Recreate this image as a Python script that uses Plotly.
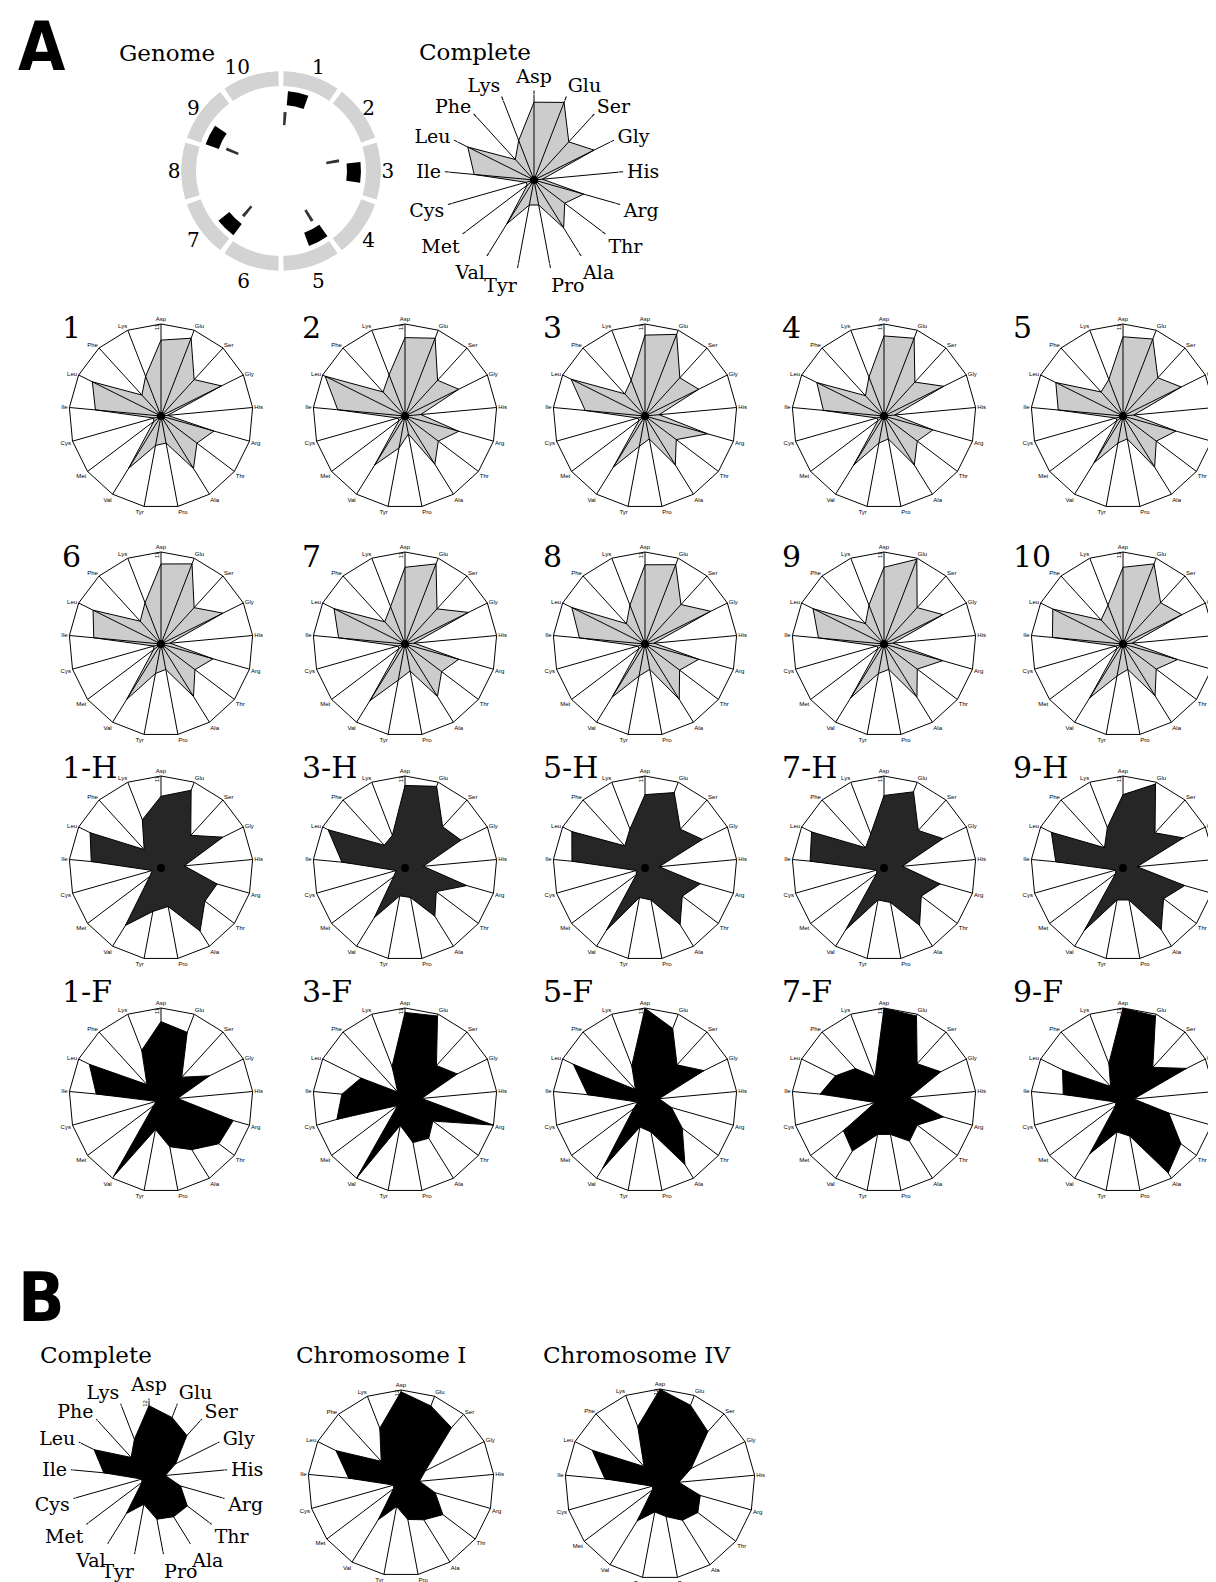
import plotly.graph_objects as go

W, H = 1216, 1582

# ---------------- data ----------------
AA = ["Asp", "Glu", "Ser", "Gly", "His", "Arg", "Thr", "Ala", "Pro",
      "Tyr", "Val", "Met", "Cys", "Ile", "Leu", "Phe", "Lys"]

# Genome map
segment_labels = ["1", "2", "3", "4", "5", "6", "7", "8", "9", "10"]
segment_angles = [18, 54, 90, 126, 162, 198, 234, 270, 306, 342]
block_angles = [12.5, 91, 152, 224, 297]
dash_angles = [4, 80, 148, 220, 292]

# Panel A (scale 0-11)
complete_A = [10.1, 10.8, 6.7, 8.7, 1.1, 6.7, 5.0, 7.3, 3.3, 3.3, 6.7, 1.1, 1.1, 7.8, 9.6, 3.6, 5.5]
seg_1 = [9.1, 10.0, 5.9, 8.1, 0.8, 6.6, 5.4, 7.4, 3.3, 3.6, 7.4, 1.1, 0.9, 7.9, 9.2, 3.4, 5.1]
seg_2 = [9.4, 10.0, 5.8, 7.2, 1.9, 6.7, 5.0, 6.8, 2.2, 3.9, 6.9, 0.9, 0.9, 8.1, 10.7, 3.9, 5.3]
seg_3 = [9.7, 10.5, 6.2, 7.2, 1.7, 7.8, 4.7, 6.9, 2.8, 3.7, 7.2, 0.9, 0.9, 7.2, 9.9, 3.6, 4.6]
seg_4 = [9.6, 10.0, 5.5, 8.0, 1.3, 6.1, 5.0, 6.9, 2.8, 3.3, 6.9, 0.9, 0.9, 7.3, 9.0, 3.3, 5.0]
seg_5 = [9.5, 9.9, 6.2, 7.8, 1.3, 6.6, 5.0, 7.2, 2.8, 3.3, 6.6, 0.9, 0.9, 7.8, 9.0, 3.9, 4.7]
seg_6 = [9.6, 10.3, 5.9, 8.3, 1.1, 6.5, 5.1, 7.4, 3.1, 3.6, 7.8, 1.1, 0.9, 8.1, 9.1, 3.7, 5.3]
seg_7 = [9.2, 10.3, 5.7, 8.5, 1.1, 6.7, 5.5, 7.4, 3.3, 4.4, 8.0, 0.9, 0.9, 8.0, 9.5, 3.6, 4.8]
seg_8 = [9.5, 10.2, 6.4, 8.8, 1.1, 6.7, 5.2, 7.8, 3.1, 3.9, 7.5, 0.9, 0.9, 7.9, 9.8, 3.3, 5.0]
seg_9 = [9.2, 10.9, 5.9, 7.9, 1.1, 7.3, 5.0, 7.5, 3.1, 3.6, 7.6, 0.9, 0.9, 7.9, 9.5, 3.3, 5.0]
seg_10 = [9.2, 10.3, 6.7, 7.9, 1.1, 6.8, 5.0, 7.3, 3.1, 3.9, 7.6, 0.9, 0.9, 8.5, 9.4, 3.9, 5.0]

h_1 = [8.6, 10.0, 5.3, 8.3, 2.8, 7.0, 6.6, 8.9, 4.7, 5.3, 8.1, 1.7, 1.1, 8.4, 9.5, 3.0, 6.2]
h_3 = [9.9, 10.5, 6.7, 7.5, 2.2, 7.7, 4.7, 6.8, 3.6, 3.4, 7.0, 1.7, 1.1, 7.6, 10.3, 3.7, 4.2]
h_5 = [8.8, 9.7, 6.3, 7.7, 1.7, 6.9, 5.6, 8.0, 3.9, 3.6, 8.8, 1.3, 1.1, 8.8, 9.8, 3.6, 5.0]
h_7 = [8.7, 9.8, 6.1, 7.9, 2.2, 7.0, 5.6, 8.1, 4.2, 3.9, 8.7, 1.1, 0.9, 8.9, 9.7, 3.3, 4.4]
h_9 = [8.8, 10.8, 5.7, 8.1, 1.7, 7.7, 6.1, 8.7, 3.9, 3.9, 8.8, 1.1, 0.9, 8.1, 9.6, 3.3, 5.2]

f_1 = [9.4, 8.7, 3.7, 6.5, 2.0, 9.0, 8.7, 7.0, 5.7, 3.6, 10.8, 1.1, 0.6, 7.8, 9.6, 2.5, 6.4]
f_3 = [10.5, 10.8, 5.6, 7.0, 2.0, 11.0, 4.2, 5.4, 5.2, 3.1, 11.0, 1.1, 8.5, 7.6, 5.9, 1.3, 4.3]
f_5 = [11.0, 9.2, 5.7, 7.9, 1.7, 3.3, 5.6, 9.1, 3.9, 3.3, 9.7, 1.7, 0.9, 6.9, 9.6, 1.7, 4.4]
f_7 = [11.0, 10.8, 5.9, 7.6, 3.0, 7.4, 5.0, 5.8, 4.2, 4.2, 7.2, 6.1, 1.1, 7.7, 6.5, 5.1, 3.0]
f_9 = [11.0, 10.8, 5.3, 8.5, 1.3, 5.7, 8.7, 10.3, 4.4, 3.9, 7.6, 1.1, 0.9, 7.2, 8.1, 2.2, 4.7]

# Panel B (scale 0-12)
complete_B = [11.3, 10.1, 8.9, 4.7, 2.6, 5.2, 7.6, 7.4, 6.8, 4.4, 6.8, 1.4, 1.2, 7.2, 9.7, 4.2, 6.4]
chrom_I = [11.8, 10.7, 9.7, 3.5, 2.4, 4.6, 6.8, 5.6, 4.8, 3.1, 5.6, 1.2, 1.0, 6.8, 9.4, 3.8, 7.6]
chrom_IV = [12.0, 10.7, 9.0, 4.4, 2.4, 5.3, 6.0, 5.4, 4.2, 3.6, 5.5, 1.2, 1.0, 7.0, 9.6, 3.0, 7.8]

# ---------------- figure ----------------
fig = go.Figure()
annotations = []
count = [0]

SERIF = "DejaVu Serif"
SANS = "Liberation Sans"
LIGHT = "rgba(0,0,0,0.2)"


def new_key():
    count[0] += 1
    return "polar" if count[0] == 1 else f"polar{count[0]}"


def dom(cx, cy, R):
    return dict(x=[(cx - R) / W, (cx + R) / W], y=[1 - (cy + R) / H, 1 - (cy - R) / H])


def radar(values, cx, cy, R, rmax, fill, big=False, font_size=6, rtick=True, ticklen=3):
    key = new_key()
    vals = list(values) + [values[0]]
    th = AA + [AA[0]]
    fig.add_trace(go.Scatterpolar(r=vals, theta=th, subplot=key, mode="lines",
                                  fill="toself", fillcolor=fill,
                                  line=dict(color="black", width=1),
                                  hoverinfo="skip", showlegend=False))
    fig.add_trace(go.Scatterpolar(r=[0.001 * rmax], theta=[AA[0]], subplot=key, mode="markers",
                                  marker=dict(color="black", size=8), cliponaxis=False,
                                  hoverinfo="skip", showlegend=False))
    ang = dict(type="category", categoryorder="array", categoryarray=AA,
               rotation=90, direction="clockwise",
               showgrid=True, gridcolor="black", gridwidth=1)
    if big:
        ang.update(showline=False, ticks="outside", ticklen=ticklen, tickcolor="black",
                   tickwidth=1, tickfont=dict(size=font_size, family=SERIF, color="black"))
    else:
        ang.update(showline=True, linecolor="black", linewidth=1, ticks="",
                   tickfont=dict(size=font_size, family=SANS, color="black"))
    rad = dict(range=[0, rmax * 1.003], showgrid=False, showline=False, ticks="",
               angle=90, side="counterclockwise", tickangle=0,
               tickfont=dict(size=6, family=SANS, color="black"))
    if rtick:
        rad.update(tickmode="array", tickvals=[rmax * 0.97], ticktext=[str(rmax)])
    else:
        rad.update(showticklabels=False)
    fig.update_layout({key: dict(domain=dom(cx, cy, R), bgcolor="rgba(0,0,0,0)",
                                 gridshape="linear", angularaxis=ang, radialaxis=rad)})


def text(s, x, y, size, family=SERIF, anchor="left", bold=False):
    annotations.append(dict(text=f"<b>{s}</b>" if bold else s, x=x / W, y=1 - y / H,
                            xref="paper", yref="paper", xanchor=anchor, yanchor="middle",
                            showarrow=False, font=dict(size=size, family=family, color="black")))


# Genome circular map
gkey = new_key()
fig.add_trace(go.Barpolar(r=[0.15] * len(segment_angles), base=[0.85] * len(segment_angles),
                          theta=segment_angles, width=[33] * len(segment_angles),
                          marker=dict(color="#d3d3d3", line=dict(width=0)),
                          subplot=gkey, hoverinfo="skip", showlegend=False))
fig.add_trace(go.Barpolar(r=[0.14] * len(block_angles), base=[0.66] * len(block_angles),
                          theta=block_angles, width=[15] * len(block_angles),
                          marker=dict(color="black", line=dict(width=0)),
                          subplot=gkey, hoverinfo="skip", showlegend=False))
fig.add_trace(go.Barpolar(r=[0.13] * len(dash_angles), base=[0.46] * len(dash_angles),
                          theta=dash_angles, width=[3] * len(dash_angles),
                          marker=dict(color="#333333", line=dict(width=0)),
                          subplot=gkey, hoverinfo="skip", showlegend=False))
fig.update_layout({gkey: dict(
    domain=dom(273, 163, 100), bgcolor="rgba(0,0,0,0)",
    angularaxis=dict(rotation=90, direction="clockwise", tickmode="array",
                     tickvals=segment_angles, ticktext=segment_labels,
                     showline=False, showgrid=False, ticks="",
                     tickfont=dict(size=20, family=SERIF, color="black")),
    radialaxis=dict(range=[0, 1], visible=False))})

# A: complete
radar(complete_A, 526, 172, 85, 11, LIGHT, big=True, font_size=19, rtick=False, ticklen=4)

# A: grid of panels
col_x = [153, 397, 637, 876, 1115]
lab_x = [52, 292, 533, 772, 1003]
rows = [
    ([seg_1, seg_2, seg_3, seg_4, seg_5], ["1", "2", "3", "4", "5"], 408, 320, LIGHT),
    ([seg_6, seg_7, seg_8, seg_9, seg_10], ["6", "7", "8", "9", "10"], 636, 548, LIGHT),
    ([h_1, h_3, h_5, h_7, h_9], ["1-H", "3-H", "5-H", "7-H", "9-H"], 860, 759, "#262626"),
    ([f_1, f_3, f_5, f_7, f_9], ["1-F", "3-F", "5-F", "7-F", "9-F"], 1092, 984, "black"),
]
for vals_list, labels, cy, ly, fill in rows:
    for j in range(5):
        radar(vals_list[j], col_x[j], cy, 92, 11, fill)
        text(labels[j], lab_x[j], ly, 30)

# B
radar(complete_B, 141, 1469, 76, 12, "black", big=True, font_size=19, ticklen=2)
radar(chrom_I, 393, 1475, 93, 12, "black")
radar(chrom_IV, 652, 1476, 95, 12, "black")

# Headings
text("A", 8, 38, 68, family="Liberation Sans Narrow, DejaVu Sans Condensed", bold=True)
text("B", 8, 1289, 68, family="Liberation Sans Narrow, DejaVu Sans Condensed", bold=True)
text("Genome", 109, 45, 23)
text("Complete", 409, 44, 23)
text("Complete", 30, 1347, 23)
text("Chromosome I", 286, 1347, 23)
text("Chromosome IV", 533, 1347, 23)

fig.update_layout(width=W, height=H, margin=dict(l=0, r=0, t=0, b=0),
                  paper_bgcolor="white", plot_bgcolor="white",
                  showlegend=False, annotations=annotations)

fig.write_html("out.html")
